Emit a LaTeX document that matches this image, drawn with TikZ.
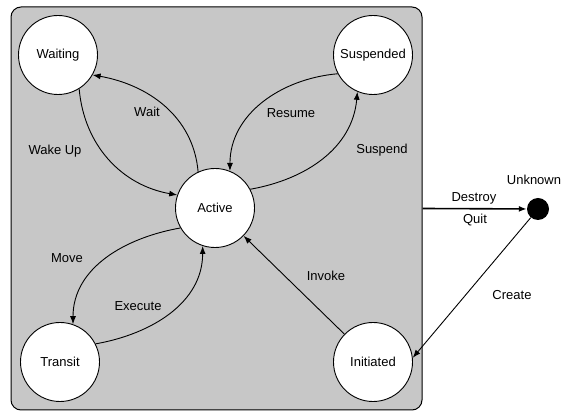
\documentclass[tikz,border=0pt]{standalone}
\usepackage{fontspec}
\setmainfont{Liberation Sans}
\usetikzlibrary{arrows.meta}
\begin{document}
\begin{tikzpicture}[x=1pt,y=1pt,
  state/.style={circle, draw=black, line width=0.9pt, fill=white,
    minimum size=79pt, inner sep=0pt, font=\fontsize{13}{15}\selectfont},
  trans/.style={draw=black, line width=0.9pt, -{Latex[length=8pt,width=6pt]}},
  lbl/.style={font=\fontsize{13}{15}\selectfont, inner sep=0pt},
]
\useasboundingbox (0,0) rectangle (565,412);

% enclosing region of the living states
\node[draw=black, line width=1pt, fill=black!22, rounded corners=10pt,
  minimum width=411pt, minimum height=403pt, inner sep=0pt] (box) at (216.5,203.5) {};

% states
\node[state] (waiting)   at (58,357)  {Waiting};
\node[state] (suspended) at (373,357) {Suspended};
\node[state] (active)    at (215,204) {Active};
\node[state] (transit)   at (60,50)   {Transit};
\node[state] (initiated) at (373,50)  {Initiated};
\node[circle, fill=black, minimum size=22pt, inner sep=0pt] (unk) at (538,203) {};

% transitions
\draw[trans] (active.115) to[out=95, in=-10] (waiting.-30);
\draw[trans] (waiting.-58) to[out=-85, in=170] (active.161);
\draw[trans] (suspended.208) to[out=185, in=90] (active.68);
\draw[trans] (active.28) to[out=10, in=-95] (suspended.-113);
\draw[trans] (active.210) to[out=190, in=90] (transit.71);
\draw[trans] (transit.27) to[out=10, in=-90] (active.-108);
\draw[trans] (initiated) -- (active);
\draw[trans, line width=1.6pt] (box.east) -- (unk);
\draw[trans] (unk) -- (initiated.6);

% labels
\node[lbl] at (147,300) {Wait};
\node[lbl] at (55,261)  {Wake Up};
\node[lbl] at (291,299) {Resume};
\node[lbl] at (382,262) {Suspend};
\node[lbl] at (67,154)  {Move};
\node[lbl] at (138,106) {Execute};
\node[lbl] at (326,136) {Invoke};
\node[lbl] at (512,117) {Create};
\node[lbl] at (474,214) {Destroy};
\node[lbl] at (475,192) {Quit};
\node[lbl] at (534,232) {Unknown};
\end{tikzpicture}
\end{document}
